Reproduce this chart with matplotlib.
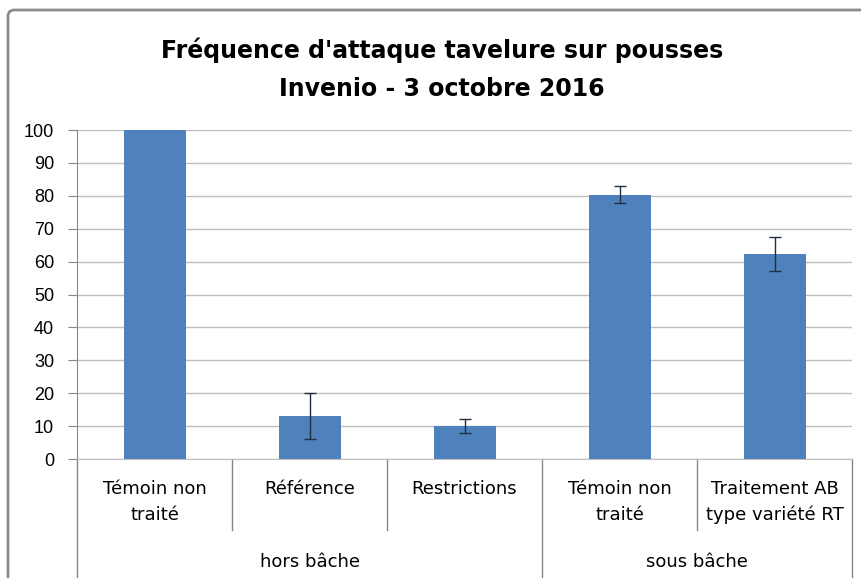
import matplotlib.pyplot as plt
from matplotlib.lines import Line2D
import numpy as np

# Data
categories = ["Témoin non\ntraité", "Référence", "Restrictions",
              "Témoin non\ntraité", "Traitement AB\ntype variété RT"]
groups = ["hors bâche", "sous bâche"]
group_sizes = [3, 2]
frequence = [100, 13.2, 10.0, 80.3, 62.3]
erreur = [0, 7.0, 2.1, 2.6, 5.3]

W, H = 861, 578
fig = plt.figure(figsize=(W / 100, H / 100), dpi=100)

# chart frame (Excel style): only the left and top edges are visible
r = 5
px_x = [8, 8, 8 + r * 0.3, 8 + r, W + 5]
px_y = [H + 5, 10 + r, 10 + r * 0.3, 10, 10]
fig.add_artist(Line2D([v / W for v in px_x], [1 - v / H for v in px_y],
                      transform=fig.transFigure, color="#8c8c8c", linewidth=2,
                      solid_joinstyle="round"))

ax = fig.add_axes([77 / W, (H - 459) / H, (852 - 77) / W, (459 - 130) / H])

x = np.arange(len(frequence))
ax.bar(x, frequence, width=0.4, color="#4f81bd", zorder=3)
ax.errorbar(x[1:], frequence[1:], yerr=erreur[1:], fmt="none", ecolor="#1f2f3f",
            elinewidth=1, capsize=4, capthick=1, zorder=4)

ax.set_xlim(-0.5, len(frequence) - 0.5)
ax.set_ylim(0, 100)
ax.set_yticks(np.arange(0, 101, 10))
ax.yaxis.grid(True, color="#bfbfbf", linewidth=1, zorder=0)
ax.set_xticks([])
for s in ["top", "right"]:
    ax.spines[s].set_visible(False)
ax.spines["left"].set_color("#868686")
ax.spines["bottom"].set_color("#bfbfbf")
ax.tick_params(axis="y", direction="out", length=6.5, color="#868686",
               labelsize=13, pad=10)
for lab in ax.get_yticklabels():
    lab.set_fontfamily("Liberation Sans")

tr = ax.get_xaxis_transform()
ah = 459 - 130
y_cat_end = -(530 - 459) / ah
y_bottom = -(H - 459) / ah - 0.02

# category labels
for i, c in enumerate(categories):
    ax.text(i, -(480 - 459) / ah, c, transform=tr, ha="center", va="top",
            fontsize=13, linespacing=1.55, family="DejaVu Sans")

# separators between categories and groups
edges = np.cumsum([0] + group_sizes) - 0.5
for k in range(len(categories) + 1):
    xe = k - 0.5
    y_end = y_bottom if xe in edges else y_cat_end
    ax.plot([xe, xe], [0, y_end], transform=tr, color="#868686",
            linewidth=1, clip_on=False)

# group labels
for g, a, b in zip(groups, edges[:-1], edges[1:]):
    ax.text((a + b) / 2, -(562 - 459) / ah, g, transform=tr, ha="center",
            va="center", fontsize=13, family="DejaVu Sans")

fig.text(0.513, 1 - 50 / H, "Fréquence d'attaque tavelure sur pousses",
         ha="center", va="center", fontsize=17, fontweight="bold")
fig.text(0.513, 1 - 89 / H, "Invenio - 3 octobre 2016",
         ha="center", va="center", fontsize=17, fontweight="bold")

fig.savefig("out.png", dpi=100)
